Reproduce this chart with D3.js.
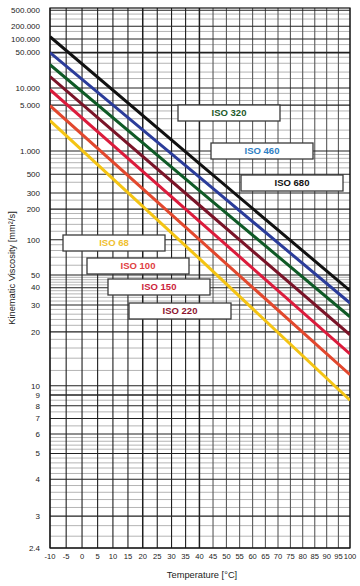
<!DOCTYPE html>
<html><head><meta charset="utf-8">
<script src="https://cdn.jsdelivr.net/npm/d3@7"></script>
<style>body{margin:0;background:#fff}svg{display:block}</style>
</head><body>
<svg id="c" width="360" height="586"></svg>
<script>
// ---- data ----
const temps = [-10, 40, 100];              // °C sample points
const grades = ["ISO 680","ISO 460","ISO 320","ISO 220","ISO 150","ISO 100","ISO 68"];
const visc680 = [113000, 680, 38];
const visc460 = [50000, 460, 31];
const visc320 = [28000, 320, 25];
const visc220 = [16300, 220, 19.2];
const visc150 = [9300, 150, 14.8];
const visc100 = [4900, 100, 11.4];
const visc68  = [2800, 68, 8.5];
const lineColors = ["#111111","#2b3c9a","#0f5a26","#7a1428","#db1c3c","#e2482e","#f4c414"];
const labelColors = ["#111111","#2f80c4","#1d5a2a","#8c1530","#cc1f3c","#e0403f","#efc030"];
const xTicks = [-10,-5,0,5,10,15,20,25,30,35,40,45,50,55,60,65,70,75,80,85,90,95,100];
const yMajor = [2.4,3,4,5,6,7,8,9,10,20,30,40,50,100,200,300,500,1000,5000,10000,50000,100000,200000,500000];
const yMinor = [2.6,2.8,3.2,3.4,3.6,3.8,4.2,4.4,4.6,4.8,5.2,5.4,5.6,5.8,6.5,7.5,8.5,9.5,12,14,16,18,22,24,26,28,32,34,36,38,42,44,46,48,60,70,80,90,120,140,160,180,250,400,600,700,800,900,1500,2000,3000,4000,6000,8000,15000,20000,30000,40000,75000,150000,300000,400000];
const yDomain = [2.4, 575000];
const tDomain = [-10, 100];

const series = [visc680,visc460,visc320,visc220,visc150,visc100,visc68];

// ---- layout ----
const L = 50, R = 350, T = 8, B = 548;
const svg = d3.select("#c");
// Walther (ASTM D341) style axes
const ll = v => Math.log10(Math.log10(v + 0.7));
const yS = d3.scaleLinear().domain(yDomain.map(ll)).range([B, T]);
const y = v => yS(ll(v));
const xS = d3.scaleLog().domain(tDomain.map(t => t + 273.15)).range([L, R]);
const x = t => xS(t + 273.15);

const fmt = v => v >= 1000 ? d3.format(",")(v).replace(/,/g, ".") : String(v);
const FF = "Liberation Sans, Arial, sans-serif";

const g = svg.append("g");
// minor horizontal
g.selectAll(".hmin").data(yMinor).join("line")
  .attr("x1", L).attr("x2", R).attr("y1", d => y(d)).attr("y2", d => y(d))
  .attr("stroke", "#b4b4b4").attr("stroke-width", 1);
// vertical
g.selectAll(".v").data(xTicks).join("line")
  .attr("x1", d => x(d)).attr("x2", d => x(d)).attr("y1", T).attr("y2", B)
  .attr("stroke", d => d <= 40 ? "#1e1e1e" : "#5a5a5a").attr("stroke-width", d => (d === 40 || d===20) ? 1.5 : 1.1);
// major horizontal
g.selectAll(".hmaj").data(yMajor).join("line")
  .attr("x1", L).attr("x2", R).attr("y1", d => y(d)).attr("y2", d => y(d))
  .attr("stroke", "#222").attr("stroke-width", d => (d === 9 || d === 50000) ? 1.6 : 1.1);
// frame
g.append("rect").attr("x", L).attr("y", T).attr("width", R - L).attr("height", B - T)
  .attr("fill", "none").attr("stroke", "#111").attr("stroke-width", 1.2);

// y tick labels
g.selectAll(".yl").data(yMajor).join("text")
  .attr("x", 40).attr("y", d => y(d)).attr("dy", "0.35em")
  .attr("text-anchor", "end").attr("font-family", FF)
  .attr("font-size", 8).attr("fill", "#222").text(fmt);
// x tick labels
g.selectAll(".xl").data(xTicks).join("text")
  .attr("x", d => x(d)).attr("y", 559)
  .attr("text-anchor", "middle").attr("font-family", FF)
  .attr("font-size", 7.6).attr("fill", "#222").text(d => String(d));

// axis titles
svg.append("text").attr("transform", "translate(15,268) rotate(-90)")
  .attr("text-anchor", "middle").attr("font-family", FF)
  .attr("font-size", 9.3).attr("fill", "#222").text("Kinematic Viscosity [mm²/s]");
svg.append("text").attr("x", 202).attr("y", 578)
  .attr("text-anchor", "middle").attr("font-family", FF)
  .attr("font-size", 9.3).attr("fill", "#222").text("Temperature [°C]");

// lines
svg.append("clipPath").attr("id", "clip").append("rect")
  .attr("x", L).attr("y", T).attr("width", R - L).attr("height", B - T);
const line = d3.line().x(d => x(d[0])).y(d => y(d[1]));
svg.append("g").attr("clip-path", "url(#clip)")
  .selectAll("path").data(series).join("path")
  .attr("d", s => line(temps.map((t, i) => [t, s[i]])))
  .attr("fill", "none").attr("stroke", (d, i) => lineColors[i]).attr("stroke-width", 3);

// labels (pixel layout of annotation boxes)
const boxes = [
  [241, 175], [211, 143], [178, 105], [129, 303], [108, 279], [87, 258], [63, 235]
];
const lg = svg.append("g");
grades.forEach((name, i) => {
  const [bx, by] = boxes[i];
  lg.append("rect").attr("x", bx).attr("y", by).attr("width", 102).attr("height", 16)
    .attr("fill", "#fff").attr("stroke", "#3a3a3a").attr("stroke-width", 1.3);
  lg.append("text").attr("x", bx + 51).attr("y", by + 8).attr("dy", "0.36em")
    .attr("text-anchor", "middle").attr("font-family", FF)
    .attr("font-weight", "bold").attr("font-size", 9.5).attr("fill", labelColors[i]).text(name);
});
</script>
</body></html>
